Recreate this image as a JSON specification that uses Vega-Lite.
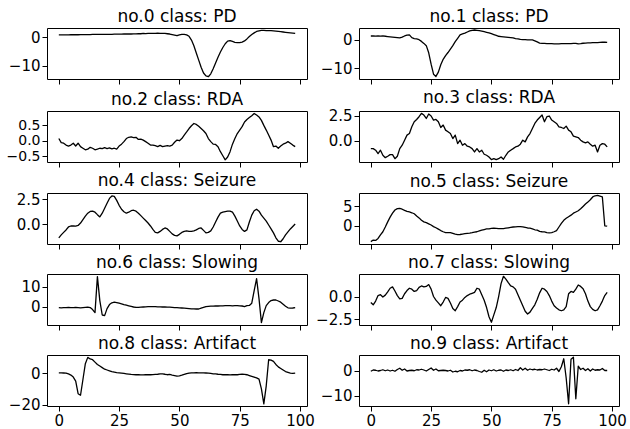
{
"$schema": "https://vega.github.io/schema/vega-lite/v6.json",
"background": "white",
"padding": {"left": 5, "top": 7, "right": 0, "bottom": 0},
"columns": 2,
"spacing": {"row": 3, "column": 0},
"datasets": {
"p0": [{"t":0,"v":0.8},{"t":1,"v":0.8},{"t":2,"v":0.8},{"t":3,"v":0.8},{"t":4,"v":0.8},{"t":5,"v":0.85},{"t":6,"v":0.85},{"t":7,"v":0.85},{"t":8,"v":0.85},{"t":9,"v":0.9},{"t":10,"v":0.9},{"t":11,"v":0.9},{"t":12,"v":0.9},{"t":13,"v":0.9},{"t":14,"v":0.95},{"t":15,"v":0.95},{"t":16,"v":0.95},{"t":17,"v":0.95},{"t":18,"v":1.0},{"t":19,"v":1.0},{"t":20,"v":1.0},{"t":21,"v":1.0},{"t":22,"v":1.0},{"t":23,"v":1.05},{"t":24,"v":1.05},{"t":25,"v":1.05},{"t":26,"v":1.05},{"t":27,"v":1.1},{"t":28,"v":1.1},{"t":29,"v":1.1},{"t":30,"v":1.1},{"t":31,"v":1.15},{"t":32,"v":1.15},{"t":33,"v":1.2},{"t":34,"v":1.2},{"t":35,"v":1.3},{"t":36,"v":1.25},{"t":37,"v":1.3},{"t":38,"v":1.3},{"t":39,"v":1.35},{"t":40,"v":1.35},{"t":41,"v":1.4},{"t":42,"v":1.35},{"t":43,"v":1.3},{"t":44,"v":1.3},{"t":45,"v":1.2},{"t":46,"v":1.1},{"t":47,"v":0.9},{"t":48,"v":0.7},{"t":49,"v":0.5},{"t":50,"v":0.8},{"t":51,"v":1.0},{"t":52,"v":1.0},{"t":53,"v":0.8},{"t":54,"v":0.3},{"t":55,"v":-1.0},{"t":56,"v":-3.0},{"t":57,"v":-5.5},{"t":58,"v":-8.0},{"t":59,"v":-10.5},{"t":60,"v":-12.5},{"t":61,"v":-13.5},{"t":62,"v":-13.8},{"t":63,"v":-12.8},{"t":64,"v":-11.0},{"t":65,"v":-9.0},{"t":66,"v":-7.0},{"t":67,"v":-5.2},{"t":68,"v":-3.6},{"t":69,"v":-2.3},{"t":70,"v":-1.4},{"t":71,"v":-1.2},{"t":72,"v":-1.5},{"t":73,"v":-1.8},{"t":74,"v":-1.9},{"t":75,"v":-1.9},{"t":76,"v":-1.7},{"t":77,"v":-1.3},{"t":78,"v":-0.6},{"t":79,"v":0.2},{"t":80,"v":0.9},{"t":81,"v":1.5},{"t":82,"v":2.0},{"t":83,"v":2.2},{"t":84,"v":2.4},{"t":85,"v":2.4},{"t":86,"v":2.3},{"t":87,"v":2.3},{"t":88,"v":2.3},{"t":89,"v":2.2},{"t":90,"v":2.1},{"t":91,"v":2.0},{"t":92,"v":1.9},{"t":93,"v":1.8},{"t":94,"v":1.7},{"t":95,"v":1.6},{"t":96,"v":1.5},{"t":97,"v":1.4},{"t":98,"v":1.3}],
"p1": [{"t":0,"v":1.4},{"t":1,"v":1.4},{"t":2,"v":1.35},{"t":3,"v":1.4},{"t":4,"v":1.35},{"t":5,"v":1.4},{"t":6,"v":1.3},{"t":7,"v":1.2},{"t":8,"v":1.1},{"t":9,"v":1.0},{"t":10,"v":0.9},{"t":11,"v":0.8},{"t":12,"v":0.7},{"t":13,"v":1.0},{"t":14,"v":1.4},{"t":15,"v":1.7},{"t":16,"v":1.8},{"t":17,"v":0.8},{"t":18,"v":0.5},{"t":19,"v":0.35},{"t":20,"v":0.1},{"t":21,"v":-0.5},{"t":22,"v":-1.2},{"t":23,"v":-2.0},{"t":24,"v":-4.5},{"t":25,"v":-8.5},{"t":26,"v":-12.0},{"t":27,"v":-12.8},{"t":28,"v":-11.3},{"t":29,"v":-8.7},{"t":30,"v":-6.8},{"t":31,"v":-5.5},{"t":32,"v":-4.4},{"t":33,"v":-3.2},{"t":34,"v":-2.0},{"t":35,"v":-0.6},{"t":36,"v":0.6},{"t":37,"v":1.8},{"t":38,"v":2.1},{"t":39,"v":2.4},{"t":40,"v":2.8},{"t":41,"v":3.2},{"t":42,"v":3.4},{"t":43,"v":3.5},{"t":44,"v":3.4},{"t":45,"v":3.3},{"t":46,"v":3.1},{"t":47,"v":2.9},{"t":48,"v":2.7},{"t":49,"v":2.5},{"t":50,"v":2.2},{"t":51,"v":1.9},{"t":52,"v":1.6},{"t":53,"v":1.3},{"t":54,"v":1.2},{"t":55,"v":1.1},{"t":56,"v":1.0},{"t":57,"v":0.9},{"t":58,"v":0.8},{"t":59,"v":0.7},{"t":60,"v":0.5},{"t":61,"v":0.4},{"t":62,"v":0.2},{"t":63,"v":0.15},{"t":64,"v":0.1},{"t":65,"v":0.05},{"t":66,"v":0.0},{"t":67,"v":0.0},{"t":68,"v":-0.3},{"t":69,"v":-0.7},{"t":70,"v":-1.1},{"t":71,"v":-1.2},{"t":72,"v":-1.2},{"t":73,"v":-1.25},{"t":74,"v":-1.3},{"t":75,"v":-1.3},{"t":76,"v":-1.35},{"t":77,"v":-1.4},{"t":78,"v":-1.35},{"t":79,"v":-1.3},{"t":80,"v":-1.3},{"t":81,"v":-1.25},{"t":82,"v":-1.3},{"t":83,"v":-1.25},{"t":84,"v":-1.2},{"t":85,"v":-1.2},{"t":86,"v":-1.4},{"t":87,"v":-1.3},{"t":88,"v":-1.15},{"t":89,"v":-1.1},{"t":90,"v":-1.05},{"t":91,"v":-1.0},{"t":92,"v":-0.95},{"t":93,"v":-0.9},{"t":94,"v":-0.9},{"t":95,"v":-0.85},{"t":96,"v":-0.8},{"t":97,"v":-0.75},{"t":98,"v":-0.85}],
"p2": [{"t":0,"v":0.07},{"t":1,"v":-0.06},{"t":2,"v":-0.08},{"t":3,"v":-0.14},{"t":4,"v":-0.17},{"t":5,"v":-0.14},{"t":6,"v":-0.08},{"t":7,"v":-0.17},{"t":8,"v":-0.08},{"t":9,"v":-0.19},{"t":10,"v":-0.24},{"t":11,"v":-0.29},{"t":12,"v":-0.27},{"t":13,"v":-0.21},{"t":14,"v":-0.24},{"t":15,"v":-0.29},{"t":16,"v":-0.27},{"t":17,"v":-0.24},{"t":18,"v":-0.25},{"t":19,"v":-0.22},{"t":20,"v":-0.25},{"t":21,"v":-0.23},{"t":22,"v":-0.26},{"t":23,"v":-0.24},{"t":24,"v":-0.27},{"t":25,"v":-0.17},{"t":26,"v":-0.11},{"t":27,"v":-0.03},{"t":28,"v":0.07},{"t":29,"v":0.11},{"t":30,"v":0.12},{"t":31,"v":0.1},{"t":32,"v":0.11},{"t":33,"v":0.04},{"t":34,"v":0.05},{"t":35,"v":0.02},{"t":36,"v":-0.03},{"t":37,"v":-0.08},{"t":38,"v":-0.14},{"t":39,"v":-0.14},{"t":40,"v":-0.16},{"t":41,"v":-0.19},{"t":42,"v":-0.15},{"t":43,"v":-0.19},{"t":44,"v":-0.17},{"t":45,"v":-0.16},{"t":46,"v":-0.17},{"t":47,"v":-0.14},{"t":48,"v":-0.05},{"t":49,"v":0.02},{"t":50,"v":0.0},{"t":51,"v":0.07},{"t":52,"v":0.18},{"t":53,"v":0.28},{"t":54,"v":0.39},{"t":55,"v":0.48},{"t":56,"v":0.55},{"t":57,"v":0.52},{"t":58,"v":0.46},{"t":59,"v":0.39},{"t":60,"v":0.32},{"t":61,"v":0.23},{"t":62,"v":0.07},{"t":63,"v":-0.03},{"t":64,"v":-0.11},{"t":65,"v":-0.12},{"t":66,"v":-0.19},{"t":67,"v":-0.35},{"t":68,"v":-0.48},{"t":69,"v":-0.61},{"t":70,"v":-0.52},{"t":71,"v":-0.35},{"t":72,"v":-0.11},{"t":73,"v":0.07},{"t":74,"v":0.23},{"t":75,"v":0.34},{"t":76,"v":0.45},{"t":77,"v":0.6},{"t":78,"v":0.68},{"t":79,"v":0.74},{"t":80,"v":0.8},{"t":81,"v":0.87},{"t":82,"v":0.82},{"t":83,"v":0.76},{"t":84,"v":0.65},{"t":85,"v":0.49},{"t":86,"v":0.34},{"t":87,"v":0.18},{"t":88,"v":0.02},{"t":89,"v":-0.19},{"t":90,"v":-0.17},{"t":91,"v":-0.24},{"t":92,"v":-0.17},{"t":93,"v":-0.11},{"t":94,"v":-0.08},{"t":95,"v":-0.03},{"t":96,"v":-0.08},{"t":97,"v":-0.14},{"t":98,"v":-0.19}],
"p3": [{"t":0,"v":-0.77},{"t":1,"v":-0.77},{"t":2,"v":-0.93},{"t":3,"v":-1.27},{"t":4,"v":-0.93},{"t":5,"v":-1.43},{"t":6,"v":-1.67},{"t":7,"v":-1.53},{"t":8,"v":-1.37},{"t":9,"v":-1.37},{"t":10,"v":-1.77},{"t":11,"v":-1.53},{"t":12,"v":-0.77},{"t":13,"v":-0.43},{"t":14,"v":0.07},{"t":15,"v":0.57},{"t":16,"v":0.73},{"t":17,"v":1.4},{"t":18,"v":1.9},{"t":19,"v":2.13},{"t":20,"v":2.4},{"t":21,"v":2.73},{"t":22,"v":2.57},{"t":23,"v":2.23},{"t":24,"v":2.67},{"t":25,"v":2.47},{"t":26,"v":2.07},{"t":27,"v":2.13},{"t":28,"v":1.9},{"t":29,"v":1.33},{"t":30,"v":1.57},{"t":31,"v":1.07},{"t":32,"v":0.9},{"t":33,"v":0.73},{"t":34,"v":0.23},{"t":35,"v":0.57},{"t":36,"v":-0.27},{"t":37,"v":0.07},{"t":38,"v":-0.43},{"t":39,"v":-0.27},{"t":40,"v":-0.53},{"t":41,"v":-0.6},{"t":42,"v":-0.77},{"t":43,"v":-1.1},{"t":44,"v":-0.77},{"t":45,"v":-1.1},{"t":46,"v":-0.93},{"t":47,"v":-1.33},{"t":48,"v":-1.43},{"t":49,"v":-1.6},{"t":50,"v":-1.87},{"t":51,"v":-1.77},{"t":52,"v":-1.87},{"t":53,"v":-1.77},{"t":54,"v":-1.6},{"t":55,"v":-1.83},{"t":56,"v":-1.43},{"t":57,"v":-1.1},{"t":58,"v":-0.93},{"t":59,"v":-0.77},{"t":60,"v":-0.6},{"t":61,"v":-0.53},{"t":62,"v":-0.33},{"t":63,"v":0.07},{"t":64,"v":-0.1},{"t":65,"v":0.4},{"t":66,"v":0.73},{"t":67,"v":1.23},{"t":68,"v":1.73},{"t":69,"v":2.07},{"t":70,"v":2.33},{"t":71,"v":2.57},{"t":72,"v":1.9},{"t":73,"v":2.4},{"t":74,"v":2.47},{"t":75,"v":2.07},{"t":76,"v":1.9},{"t":77,"v":1.73},{"t":78,"v":1.4},{"t":79,"v":1.33},{"t":80,"v":1.23},{"t":81,"v":1.47},{"t":82,"v":1.07},{"t":83,"v":0.9},{"t":84,"v":0.47},{"t":85,"v":0.4},{"t":86,"v":0.33},{"t":87,"v":0.07},{"t":88,"v":-0.1},{"t":89,"v":-0.2},{"t":90,"v":-0.1},{"t":91,"v":-0.33},{"t":92,"v":-0.53},{"t":93,"v":-0.43},{"t":94,"v":-1.1},{"t":95,"v":-0.43},{"t":96,"v":-0.27},{"t":97,"v":-0.33},{"t":98,"v":-0.6}],
"p4": [{"t":0,"v":-1.4},{"t":1,"v":-1.1},{"t":2,"v":-0.85},{"t":3,"v":-0.6},{"t":4,"v":-0.3},{"t":5,"v":-0.2},{"t":6,"v":-0.2},{"t":7,"v":-0.22},{"t":8,"v":-0.15},{"t":9,"v":0.1},{"t":10,"v":0.45},{"t":11,"v":0.8},{"t":12,"v":1.1},{"t":13,"v":1.28},{"t":14,"v":1.3},{"t":15,"v":1.2},{"t":16,"v":0.95},{"t":17,"v":0.72},{"t":18,"v":1.1},{"t":19,"v":1.6},{"t":20,"v":2.1},{"t":21,"v":2.6},{"t":22,"v":2.85},{"t":23,"v":2.8},{"t":24,"v":2.4},{"t":25,"v":1.9},{"t":26,"v":1.5},{"t":27,"v":1.25},{"t":28,"v":1.1},{"t":29,"v":1.2},{"t":30,"v":1.35},{"t":31,"v":1.4},{"t":32,"v":1.3},{"t":33,"v":1.1},{"t":34,"v":0.85},{"t":35,"v":0.6},{"t":36,"v":0.35},{"t":37,"v":0.1},{"t":38,"v":-0.2},{"t":39,"v":-0.55},{"t":40,"v":-0.85},{"t":41,"v":-0.9},{"t":42,"v":-0.75},{"t":43,"v":-0.55},{"t":44,"v":-0.4},{"t":45,"v":-0.5},{"t":46,"v":-0.75},{"t":47,"v":-1.0},{"t":48,"v":-1.15},{"t":49,"v":-1.2},{"t":50,"v":-1.05},{"t":51,"v":-0.85},{"t":52,"v":-0.75},{"t":53,"v":-0.7},{"t":54,"v":-0.75},{"t":55,"v":-0.75},{"t":56,"v":-0.7},{"t":57,"v":-0.6},{"t":58,"v":-0.45},{"t":59,"v":-0.4},{"t":60,"v":-0.65},{"t":61,"v":-0.9},{"t":62,"v":-0.85},{"t":63,"v":-0.7},{"t":64,"v":-0.3},{"t":65,"v":0.2},{"t":66,"v":0.7},{"t":67,"v":1.1},{"t":68,"v":1.2},{"t":69,"v":1.25},{"t":70,"v":1.3},{"t":71,"v":1.3},{"t":72,"v":1.2},{"t":73,"v":0.8},{"t":74,"v":0.3},{"t":75,"v":-0.2},{"t":76,"v":-0.55},{"t":77,"v":-0.75},{"t":78,"v":-0.6},{"t":79,"v":0.2},{"t":80,"v":0.9},{"t":81,"v":1.35},{"t":82,"v":1.5},{"t":83,"v":1.3},{"t":84,"v":0.9},{"t":85,"v":0.6},{"t":86,"v":0.3},{"t":87,"v":-0.1},{"t":88,"v":-0.5},{"t":89,"v":-0.9},{"t":90,"v":-1.4},{"t":91,"v":-1.75},{"t":92,"v":-1.8},{"t":93,"v":-1.5},{"t":94,"v":-1.1},{"t":95,"v":-0.8},{"t":96,"v":-0.5},{"t":97,"v":-0.25},{"t":98,"v":0.0}],
"p5": [{"t":0,"v":-4.0},{"t":1,"v":-3.6},{"t":2,"v":-3.7},{"t":3,"v":-3.2},{"t":4,"v":-2.3},{"t":5,"v":-1.5},{"t":6,"v":-0.3},{"t":7,"v":1.0},{"t":8,"v":2.2},{"t":9,"v":3.2},{"t":10,"v":4.0},{"t":11,"v":4.35},{"t":12,"v":4.4},{"t":13,"v":4.2},{"t":14,"v":3.9},{"t":15,"v":3.65},{"t":16,"v":3.5},{"t":17,"v":3.3},{"t":18,"v":3.05},{"t":19,"v":2.5},{"t":20,"v":2.0},{"t":21,"v":1.4},{"t":22,"v":1.0},{"t":23,"v":0.8},{"t":24,"v":0.5},{"t":25,"v":0.2},{"t":26,"v":-0.2},{"t":27,"v":-0.5},{"t":28,"v":-0.85},{"t":29,"v":-1.2},{"t":30,"v":-1.5},{"t":31,"v":-1.7},{"t":32,"v":-1.7},{"t":33,"v":-1.7},{"t":34,"v":-1.9},{"t":35,"v":-2.1},{"t":36,"v":-2.25},{"t":37,"v":-2.2},{"t":38,"v":-2.1},{"t":39,"v":-2.0},{"t":40,"v":-1.9},{"t":41,"v":-1.85},{"t":42,"v":-1.75},{"t":43,"v":-1.6},{"t":44,"v":-1.5},{"t":45,"v":-1.3},{"t":46,"v":-1.1},{"t":47,"v":-0.95},{"t":48,"v":-0.8},{"t":49,"v":-0.75},{"t":50,"v":-0.65},{"t":51,"v":-0.6},{"t":52,"v":-0.65},{"t":53,"v":-0.7},{"t":54,"v":-0.7},{"t":55,"v":-0.7},{"t":56,"v":-0.6},{"t":57,"v":-0.5},{"t":58,"v":-0.4},{"t":59,"v":-0.3},{"t":60,"v":-0.25},{"t":61,"v":-0.2},{"t":62,"v":-0.2},{"t":63,"v":-0.25},{"t":64,"v":-0.4},{"t":65,"v":-0.55},{"t":66,"v":-0.6},{"t":67,"v":-0.75},{"t":68,"v":-1.0},{"t":69,"v":-1.1},{"t":70,"v":-1.4},{"t":71,"v":-1.5},{"t":72,"v":-1.55},{"t":73,"v":-1.7},{"t":74,"v":-1.8},{"t":75,"v":-1.7},{"t":76,"v":-1.5},{"t":77,"v":-1.2},{"t":78,"v":-0.3},{"t":79,"v":0.6},{"t":80,"v":1.4},{"t":81,"v":1.9},{"t":82,"v":2.3},{"t":83,"v":2.7},{"t":84,"v":3.2},{"t":85,"v":3.5},{"t":86,"v":3.8},{"t":87,"v":4.3},{"t":88,"v":4.9},{"t":89,"v":5.5},{"t":90,"v":6.0},{"t":91,"v":6.6},{"t":92,"v":7.3},{"t":93,"v":7.6},{"t":94,"v":7.7},{"t":95,"v":7.5},{"t":96,"v":7.3},{"t":97,"v":0.0},{"t":98,"v":-0.1}],
"p6": [{"t":0,"v":-0.5},{"t":1,"v":-0.6},{"t":2,"v":-0.5},{"t":3,"v":-0.5},{"t":4,"v":-0.4},{"t":5,"v":-0.5},{"t":6,"v":-0.5},{"t":7,"v":-0.4},{"t":8,"v":-0.5},{"t":9,"v":-0.6},{"t":10,"v":-0.5},{"t":11,"v":-0.4},{"t":12,"v":-0.3},{"t":13,"v":-0.5},{"t":14,"v":-1.5},{"t":15,"v":-3.0},{"t":16,"v":15.0},{"t":17,"v":3.0},{"t":18,"v":-4.2},{"t":19,"v":-4.5},{"t":20,"v":-1.0},{"t":21,"v":1.0},{"t":22,"v":1.9},{"t":23,"v":2.2},{"t":24,"v":2.0},{"t":25,"v":1.7},{"t":26,"v":1.4},{"t":27,"v":1.0},{"t":28,"v":0.7},{"t":29,"v":0.4},{"t":30,"v":0.1},{"t":31,"v":-0.2},{"t":32,"v":-0.4},{"t":33,"v":-0.4},{"t":34,"v":-0.3},{"t":35,"v":-0.2},{"t":36,"v":-0.1},{"t":37,"v":0.0},{"t":38,"v":0.0},{"t":39,"v":0.0},{"t":40,"v":0.0},{"t":41,"v":-0.1},{"t":42,"v":-0.1},{"t":43,"v":-0.2},{"t":44,"v":-0.2},{"t":45,"v":-0.3},{"t":46,"v":-0.3},{"t":47,"v":-0.4},{"t":48,"v":-0.5},{"t":49,"v":-0.5},{"t":50,"v":-0.6},{"t":51,"v":-0.7},{"t":52,"v":-0.8},{"t":53,"v":-0.9},{"t":54,"v":-1.0},{"t":55,"v":-1.1},{"t":56,"v":-1.1},{"t":57,"v":-1.2},{"t":58,"v":-1.2},{"t":59,"v":-0.8},{"t":60,"v":-0.4},{"t":61,"v":0.0},{"t":62,"v":0.1},{"t":63,"v":0.2},{"t":64,"v":0.2},{"t":65,"v":0.3},{"t":66,"v":0.3},{"t":67,"v":0.4},{"t":68,"v":0.4},{"t":69,"v":0.5},{"t":70,"v":0.5},{"t":71,"v":0.5},{"t":72,"v":0.4},{"t":73,"v":0.5},{"t":74,"v":0.5},{"t":75,"v":0.4},{"t":76,"v":0.3},{"t":77,"v":0.0},{"t":78,"v":0.5},{"t":79,"v":0.6},{"t":80,"v":1.7},{"t":81,"v":8.0},{"t":82,"v":14.0},{"t":83,"v":4.0},{"t":84,"v":-8.0},{"t":85,"v":-3.0},{"t":86,"v":0.5},{"t":87,"v":2.0},{"t":88,"v":3.0},{"t":89,"v":3.3},{"t":90,"v":3.3},{"t":91,"v":2.8},{"t":92,"v":2.2},{"t":93,"v":1.2},{"t":94,"v":0.2},{"t":95,"v":-0.6},{"t":96,"v":-0.8},{"t":97,"v":-0.7},{"t":98,"v":-0.5}],
"p7": [{"t":0,"v":-0.65},{"t":1,"v":-0.9},{"t":2,"v":-0.5},{"t":3,"v":0.1},{"t":4,"v":0.2},{"t":5,"v":-0.05},{"t":6,"v":0.15},{"t":7,"v":0.5},{"t":8,"v":0.9},{"t":9,"v":1.05},{"t":10,"v":0.6},{"t":11,"v":0.1},{"t":12,"v":-0.25},{"t":13,"v":-0.2},{"t":14,"v":0.3},{"t":15,"v":0.65},{"t":16,"v":0.9},{"t":17,"v":0.8},{"t":18,"v":0.55},{"t":19,"v":0.65},{"t":20,"v":1.0},{"t":21,"v":1.15},{"t":22,"v":1.05},{"t":23,"v":1.1},{"t":24,"v":1.3},{"t":25,"v":0.8},{"t":26,"v":0.0},{"t":27,"v":-0.4},{"t":28,"v":-0.7},{"t":29,"v":-1.0},{"t":30,"v":-0.6},{"t":31,"v":-0.1},{"t":32,"v":-0.2},{"t":33,"v":-0.7},{"t":34,"v":-1.3},{"t":35,"v":-1.55},{"t":36,"v":-1.1},{"t":37,"v":-0.6},{"t":38,"v":-0.4},{"t":39,"v":-0.1},{"t":40,"v":0.1},{"t":41,"v":0.25},{"t":42,"v":0.35},{"t":43,"v":0.45},{"t":44,"v":0.9},{"t":45,"v":0.8},{"t":46,"v":0.2},{"t":47,"v":-0.4},{"t":48,"v":-1.2},{"t":49,"v":-2.2},{"t":50,"v":-2.8},{"t":51,"v":-2.0},{"t":52,"v":-1.2},{"t":53,"v":0.0},{"t":54,"v":1.4},{"t":55,"v":2.2},{"t":56,"v":1.9},{"t":57,"v":1.5},{"t":58,"v":1.15},{"t":59,"v":1.05},{"t":60,"v":0.8},{"t":61,"v":0.2},{"t":62,"v":-0.4},{"t":63,"v":-1.0},{"t":64,"v":-1.6},{"t":65,"v":-1.9},{"t":66,"v":-1.7},{"t":67,"v":-1.3},{"t":68,"v":-0.9},{"t":69,"v":-0.3},{"t":70,"v":0.4},{"t":71,"v":0.9},{"t":72,"v":0.8},{"t":73,"v":0.55},{"t":74,"v":0.1},{"t":75,"v":-0.5},{"t":76,"v":-1.0},{"t":77,"v":-1.25},{"t":78,"v":-1.45},{"t":79,"v":-1.55},{"t":80,"v":-1.45},{"t":81,"v":-1.1},{"t":82,"v":0.3},{"t":83,"v":0.55},{"t":84,"v":0.45},{"t":85,"v":0.8},{"t":86,"v":1.25},{"t":87,"v":1.1},{"t":88,"v":0.85},{"t":89,"v":0.3},{"t":90,"v":-0.5},{"t":91,"v":-1.1},{"t":92,"v":-1.4},{"t":93,"v":-1.55},{"t":94,"v":-1.45},{"t":95,"v":-1.0},{"t":96,"v":-0.5},{"t":97,"v":0.1},{"t":98,"v":0.45}],
"p8": [{"t":0,"v":0.2},{"t":1,"v":0.2},{"t":2,"v":0.1},{"t":3,"v":0.0},{"t":4,"v":-0.5},{"t":5,"v":-1.2},{"t":6,"v":-2.5},{"t":7,"v":-5.0},{"t":8,"v":-13.0},{"t":9,"v":-14.0},{"t":10,"v":-4.0},{"t":11,"v":6.0},{"t":12,"v":10.0},{"t":13,"v":9.0},{"t":14,"v":8.5},{"t":15,"v":7.0},{"t":16,"v":5.5},{"t":17,"v":4.5},{"t":18,"v":3.5},{"t":19,"v":2.5},{"t":20,"v":2.0},{"t":21,"v":1.5},{"t":22,"v":1.0},{"t":23,"v":0.7},{"t":24,"v":0.4},{"t":25,"v":0.2},{"t":26,"v":0.0},{"t":27,"v":-0.2},{"t":28,"v":-0.4},{"t":29,"v":-0.6},{"t":30,"v":-0.8},{"t":31,"v":-0.9},{"t":32,"v":-1.0},{"t":33,"v":-1.0},{"t":34,"v":-1.1},{"t":35,"v":-1.1},{"t":36,"v":-1.0},{"t":37,"v":-1.0},{"t":38,"v":-1.0},{"t":39,"v":-0.9},{"t":40,"v":-0.8},{"t":41,"v":-0.7},{"t":42,"v":-0.5},{"t":43,"v":-0.5},{"t":44,"v":-0.7},{"t":45,"v":-1.0},{"t":46,"v":-0.8},{"t":47,"v":-1.2},{"t":48,"v":-1.5},{"t":49,"v":-1.9},{"t":50,"v":-1.7},{"t":51,"v":-1.3},{"t":52,"v":-0.8},{"t":53,"v":-0.3},{"t":54,"v":0.0},{"t":55,"v":0.2},{"t":56,"v":0.2},{"t":57,"v":0.3},{"t":58,"v":0.2},{"t":59,"v":0.2},{"t":60,"v":0.2},{"t":61,"v":0.1},{"t":62,"v":0.0},{"t":63,"v":-0.2},{"t":64,"v":-0.4},{"t":65,"v":-0.5},{"t":66,"v":-0.7},{"t":67,"v":-0.8},{"t":68,"v":-1.0},{"t":69,"v":-0.9},{"t":70,"v":-1.0},{"t":71,"v":-1.1},{"t":72,"v":-1.0},{"t":73,"v":-0.9},{"t":74,"v":-1.0},{"t":75,"v":-0.8},{"t":76,"v":-0.7},{"t":77,"v":-0.8},{"t":78,"v":-1.0},{"t":79,"v":-1.5},{"t":80,"v":-2.0},{"t":81,"v":-2.5},{"t":82,"v":-3.0},{"t":83,"v":-3.8},{"t":84,"v":-10.0},{"t":85,"v":-19.4},{"t":86,"v":-8.0},{"t":87,"v":8.5},{"t":88,"v":8.3},{"t":89,"v":7.5},{"t":90,"v":5.5},{"t":91,"v":4.0},{"t":92,"v":3.0},{"t":93,"v":2.0},{"t":94,"v":1.0},{"t":95,"v":0.5},{"t":96,"v":0.0},{"t":97,"v":-0.2},{"t":98,"v":0.0}],
"p9": [{"t":0,"v":-0.3},{"t":1,"v":0.2},{"t":2,"v":0.1},{"t":3,"v":-0.2},{"t":4,"v":0.0},{"t":5,"v":0.3},{"t":6,"v":-0.1},{"t":7,"v":0.2},{"t":8,"v":-0.2},{"t":9,"v":0.1},{"t":10,"v":-0.3},{"t":11,"v":0.4},{"t":12,"v":0.9},{"t":13,"v":0.1},{"t":14,"v":0.6},{"t":15,"v":-0.2},{"t":16,"v":0.0},{"t":17,"v":0.1},{"t":18,"v":-0.1},{"t":19,"v":0.3},{"t":20,"v":0.2},{"t":21,"v":0.5},{"t":22,"v":0.2},{"t":23,"v":-0.2},{"t":24,"v":0.4},{"t":25,"v":1.0},{"t":26,"v":0.1},{"t":27,"v":0.6},{"t":28,"v":-0.1},{"t":29,"v":0.0},{"t":30,"v":0.1},{"t":31,"v":0.0},{"t":32,"v":-0.2},{"t":33,"v":0.1},{"t":34,"v":-0.6},{"t":35,"v":-0.3},{"t":36,"v":-0.5},{"t":37,"v":0.0},{"t":38,"v":-0.2},{"t":39,"v":0.2},{"t":40,"v":0.1},{"t":41,"v":0.3},{"t":42,"v":-0.1},{"t":43,"v":0.2},{"t":44,"v":0.0},{"t":45,"v":-0.4},{"t":46,"v":-0.7},{"t":47,"v":0.1},{"t":48,"v":-0.5},{"t":49,"v":0.2},{"t":50,"v":-0.1},{"t":51,"v":0.3},{"t":52,"v":-0.2},{"t":53,"v":0.1},{"t":54,"v":0.2},{"t":55,"v":-0.3},{"t":56,"v":0.2},{"t":57,"v":0.0},{"t":58,"v":0.3},{"t":59,"v":-0.1},{"t":60,"v":0.4},{"t":61,"v":0.0},{"t":62,"v":1.1},{"t":63,"v":0.2},{"t":64,"v":0.9},{"t":65,"v":0.1},{"t":66,"v":0.6},{"t":67,"v":0.3},{"t":68,"v":0.5},{"t":69,"v":0.2},{"t":70,"v":0.4},{"t":71,"v":0.3},{"t":72,"v":0.6},{"t":73,"v":0.3},{"t":74,"v":0.0},{"t":75,"v":0.5},{"t":76,"v":0.2},{"t":77,"v":0.9},{"t":78,"v":-0.4},{"t":79,"v":1.5},{"t":80,"v":4.7},{"t":81,"v":-3.0},{"t":82,"v":-13.3},{"t":83,"v":4.5},{"t":84,"v":5.3},{"t":85,"v":-11.3},{"t":86,"v":1.7},{"t":87,"v":0.4},{"t":88,"v":0.9},{"t":89,"v":0.0},{"t":90,"v":0.7},{"t":91,"v":-0.2},{"t":92,"v":0.6},{"t":93,"v":0.1},{"t":94,"v":0.3},{"t":95,"v":0.2},{"t":96,"v":0.8},{"t":97,"v":0.0},{"t":98,"v":0.0}]
},
"concat": [
{"data":{"name":"p0"},"title":"no.0 class: PD","width":260,"height":51,"mark":{"type":"line","color":"black","strokeWidth":1.3},
 "encoding":{"x":{"field":"t","type":"quantitative","scale":{"domain":[-4.9,102.9],"nice":false,"zero":false},"axis":{"values":[0,25,50,75,100],"labels":false,"title":null}},
 "y":{"field":"v","type":"quantitative","scale":{"domain":[-14.6,3.2],"nice":false,"zero":false},"axis":{"values":[-10,0],"title":null}}}},
{"data":{"name":"p1"},"title":"no.1 class: PD","width":260,"height":51,"mark":{"type":"line","color":"black","strokeWidth":1.3},
 "encoding":{"x":{"field":"t","type":"quantitative","scale":{"domain":[-4.9,102.9],"nice":false,"zero":false},"axis":{"values":[0,25,50,75,100],"labels":false,"title":null}},
 "y":{"field":"v","type":"quantitative","scale":{"domain":[-13.7,4.2],"nice":false,"zero":false},"axis":{"values":[-10,0],"title":null}}}},
{"data":{"name":"p2"},"title":"no.2 class: RDA","width":260,"height":51,"mark":{"type":"line","color":"black","strokeWidth":1.3},
 "encoding":{"x":{"field":"t","type":"quantitative","scale":{"domain":[-4.9,102.9],"nice":false,"zero":false},"axis":{"values":[0,25,50,75,100],"labels":false,"title":null}},
 "y":{"field":"v","type":"quantitative","scale":{"domain":[-0.68,0.95],"nice":false,"zero":false},"axis":{"values":[-0.5,0,0.5],"format":".1f","title":null,"labelOverlap":false,"labelFontSize":14}}}},
{"data":{"name":"p3"},"title":"no.3 class: RDA","width":260,"height":51,"mark":{"type":"line","color":"black","strokeWidth":1.3},
 "encoding":{"x":{"field":"t","type":"quantitative","scale":{"domain":[-4.9,102.9],"nice":false,"zero":false},"axis":{"values":[0,25,50,75,100],"labels":false,"title":null}},
 "y":{"field":"v","type":"quantitative","scale":{"domain":[-2.1,2.97],"nice":false,"zero":false},"axis":{"values":[0,2.5],"format":".1f","title":null}}}},
{"data":{"name":"p4"},"title":"no.4 class: Seizure","width":260,"height":51,"mark":{"type":"line","color":"black","strokeWidth":1.3},
 "encoding":{"x":{"field":"t","type":"quantitative","scale":{"domain":[-4.9,102.9],"nice":false,"zero":false},"axis":{"values":[0,25,50,75,100],"labels":false,"title":null}},
 "y":{"field":"v","type":"quantitative","scale":{"domain":[-2.03,3.15],"nice":false,"zero":false},"axis":{"values":[0,2.5],"format":".1f","title":null}}}},
{"data":{"name":"p5"},"title":"no.5 class: Seizure","width":260,"height":51,"mark":{"type":"line","color":"black","strokeWidth":1.3},
 "encoding":{"x":{"field":"t","type":"quantitative","scale":{"domain":[-4.9,102.9],"nice":false,"zero":false},"axis":{"values":[0,25,50,75,100],"labels":false,"title":null}},
 "y":{"field":"v","type":"quantitative","scale":{"domain":[-4.6,8.3],"nice":false,"zero":false},"axis":{"values":[0,5],"title":null}}}},
{"data":{"name":"p6"},"title":"no.6 class: Slowing","width":260,"height":51,"mark":{"type":"line","color":"black","strokeWidth":1.3},
 "encoding":{"x":{"field":"t","type":"quantitative","scale":{"domain":[-4.9,102.9],"nice":false,"zero":false},"axis":{"values":[0,25,50,75,100],"labels":false,"title":null}},
 "y":{"field":"v","type":"quantitative","scale":{"domain":[-9.2,16.3],"nice":false,"zero":false},"axis":{"values":[0,10],"title":null}}}},
{"data":{"name":"p7"},"title":"no.7 class: Slowing","width":260,"height":51,"mark":{"type":"line","color":"black","strokeWidth":1.3},
 "encoding":{"x":{"field":"t","type":"quantitative","scale":{"domain":[-4.9,102.9],"nice":false,"zero":false},"axis":{"values":[0,25,50,75,100],"labels":false,"title":null}},
 "y":{"field":"v","type":"quantitative","scale":{"domain":[-3.1,2.45],"nice":false,"zero":false},"axis":{"values":[-2.5,0],"format":".1f","title":null}}}},
{"data":{"name":"p8"},"title":"no.8 class: Artifact","width":260,"height":51,"mark":{"type":"line","color":"black","strokeWidth":1.3},
 "encoding":{"x":{"field":"t","type":"quantitative","scale":{"domain":[-4.9,102.9],"nice":false,"zero":false},"axis":{"values":[0,25,50,75,100],"labels":true,"title":null}},
 "y":{"field":"v","type":"quantitative","scale":{"domain":[-20.8,11.5],"nice":false,"zero":false},"axis":{"values":[-20,0],"title":null}}}},
{"data":{"name":"p9"},"title":"no.9 class: Artifact","width":260,"height":51,"mark":{"type":"line","color":"black","strokeWidth":1.3},
 "encoding":{"x":{"field":"t","type":"quantitative","scale":{"domain":[-4.9,102.9],"nice":false,"zero":false},"axis":{"values":[0,25,50,75,100],"labels":true,"title":null}},
 "y":{"field":"v","type":"quantitative","scale":{"domain":[-14.2,6.2],"nice":false,"zero":false},"axis":{"values":[-10,0],"title":null}}}}
],
"config": {
 "view": {"stroke": "black", "strokeWidth": 1},
 "axis": {"grid": false, "domain": false, "ticks": true, "tickColor": "black", "tickSize": 5, "labelFont": "DejaVu Sans", "labelFontSize": 15, "labelColor": "black", "labelPadding": 2},
 "title": {"font": "DejaVu Sans", "fontSize": 17, "fontWeight": "normal", "color": "black", "offset": 2},
 "line": {"strokeJoin": "round"}
}
}
